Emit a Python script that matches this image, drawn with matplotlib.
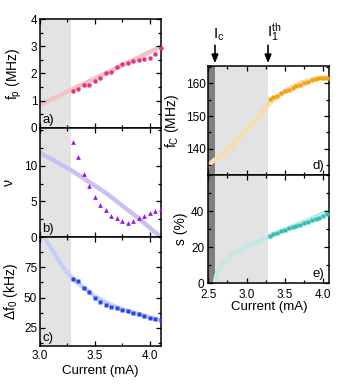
import matplotlib
matplotlib.use("Agg")
import matplotlib.pyplot as plt
from matplotlib.ticker import MultipleLocator
import numpy as np

plt.rcParams['font.family'] = ['Liberation Sans', 'DejaVu Sans']
plt.rcParams['mathtext.fontset'] = 'custom'
plt.rcParams['mathtext.rm'] = 'Liberation Sans'
plt.rcParams['mathtext.it'] = 'Liberation Sans:italic'
plt.rcParams['font.size'] = 9

# ---------------- data ----------------
current = [3.30, 3.35, 3.40, 3.45, 3.50, 3.55, 3.60, 3.65, 3.70, 3.75,
           3.80, 3.85, 3.90, 3.95, 4.00, 4.05, 4.10]

fp = [1.37, 1.42, 1.57, 1.58, 1.72, 1.84, 2.03, 2.07, 2.24, 2.36,
      2.39, 2.45, 2.49, 2.53, 2.58, 2.72, 2.93]
nu = [13.4, 11.2, 8.8, 7.2, 5.6, 4.5, 3.8, 2.9, 2.6, 2.3,
      2.0, 2.2, 2.7, 3.0, 3.4, 3.6, 3.9]
df0 = [65.0, 63.3, 58.3, 54.4, 49.4, 46.0, 44.0, 42.2, 41.0, 39.6,
       38.5, 37.4, 36.2, 34.6, 33.2, 32.5, 31.4]
fc = [155.3, 155.8, 156.2, 156.9, 157.6, 158.1, 158.7, 159.2, 159.6, 160.2,
      160.5, 161.0, 161.3, 161.5, 161.7, 161.7, 161.6]
s = [26.4, 27.3, 28.1, 28.9, 29.7, 30.5, 31.2, 31.8, 32.5, 33.4,
     34.2, 34.9, 35.6, 36.4, 37.2, 38.2, 40.8]

# model curves
fit_a_x = [3.0, 4.1]
fit_a_y = [0.85, 2.98]
fit_b_x = [3.0, 3.1, 3.2, 3.3, 3.4, 3.5, 3.6, 3.7, 3.8, 3.9, 4.0, 4.1]
fit_b_y = [11.8, 11.0, 10.1, 9.2, 8.2, 7.2, 6.2, 5.0, 3.8, 2.6, 1.3, 0.0]
fit_c_x = [3.02, 3.06, 3.10, 3.15, 3.20, 3.25, 3.30, 3.35, 3.40, 3.50,
           3.60, 3.70, 3.80, 3.90, 4.00, 4.10]
fit_c_y = [103, 97, 91, 83.5, 76.5, 70.5, 65.5, 61.5, 58, 51,
           46, 42, 39, 36.2, 33.7, 31.5]
fit_d_x = [2.50, 2.58, 2.65, 2.75, 2.85, 3.00, 3.10, 3.20, 3.30, 3.40,
           3.50, 3.60, 3.70, 3.80, 3.90, 4.00, 4.08]
fit_d_y = [135.0, 136.6, 137.6, 139.5, 141.9, 145.8, 148.4, 151.2, 154.0, 155.9,
           157.6, 159.0, 160.1, 160.9, 161.5, 161.8, 161.7]
fit_e_x = [2.585, 2.60, 2.63, 2.68, 2.74, 2.82, 2.91, 3.00, 3.09, 3.18,
           3.28, 3.40, 3.60, 3.80, 4.00, 4.08]
fit_e_y = [0.0, 3.5, 7.3, 10.3, 12.8, 15.8, 18.3, 20.3, 22.0, 23.8,
           25.7, 27.9, 31.5, 35.0, 38.7, 40.3]

ticks_a = [0, 1, 2, 3, 4]
ticks_b = [0, 5, 10]
ticks_c = [25, 50, 75]
ticks_d = [140, 150, 160]
ticks_e = [0, 20, 40]
xticks_left = [3.0, 3.5, 4.0]
xticks_right = [2.5, 3.0, 3.5, 4.0]

Ic = 2.587
I1th = 3.28

# ---------------- figure ----------------
fig = plt.figure(figsize=(3.39, 3.89), dpi=100)

L0, W0 = 40/339, 120.7/339
R0, W1 = 208.3/339, 121/339

def fy(top, bot):
    return 1 - bot/389, (bot - top)/389

def make(left, width, top, bot):
    b, h = fy(top, bot)
    return fig.add_axes([left, b, width, h])

ax_a = make(L0, W0, 19, 128)
ax_b = make(L0, W0, 128, 237)
ax_c = make(L0, W0, 237, 346)
ax_d = make(R0, W1, 66, 175)
ax_e = make(R0, W1, 175, 283.3)

light_gray = '#e3e3e3'
dark_gray = '#7f7f7f'
fit_lw = 3.2
lab_fs = 10
xlab_fs = 9.5
tick_fs = 8.5
pan_fs = 9.5

def style(ax, yt, ymin_, xt, xlabels):
    ax.tick_params(which='both', direction='in', top=True, right=True,
                   width=0.9, labelsize=tick_fs, pad=2)
    ax.tick_params(axis='x', which='both', pad=3)
    ax.tick_params(which='major', length=3.5)
    ax.tick_params(which='minor', length=2)
    ax.set_xticks(xt)
    ax.xaxis.set_minor_locator(MultipleLocator(0.25))
    ax.set_yticks(yt)
    ax.yaxis.set_minor_locator(MultipleLocator(ymin_))
    for sp in ax.spines.values():
        sp.set_linewidth(1.1)
    if not xlabels:
        ax.tick_params(labelbottom=False)

# panel a
ax = ax_a
ax.axvspan(3.0, I1th, color=light_gray, lw=0, zorder=0)
ax.plot(fit_a_x, fit_a_y, color='#f4c2c2', lw=fit_lw, solid_capstyle='butt', zorder=1)
ax.plot(current, fp, 'o', color='#e8327c', ms=3.2, mec='none', zorder=3, clip_on=False)
ax.set_xlim(3.0, 4.1)
ax.set_ylim(0, 4)
style(ax, ticks_a, 0.5, xticks_left, False)
ax.set_ylabel(r'f$_\mathrm{p}$ (MHz)', labelpad=5, fontsize=lab_fs)
ax.text(0.02, 0.02, 'a)', transform=ax.transAxes, ha='left', va='bottom', fontsize=pan_fs)

# panel b
ax = ax_b
ax.axvspan(3.0, I1th, color=light_gray, lw=0, zorder=0)
ax.plot(fit_b_x, fit_b_y, color='#cdbff5', lw=fit_lw, zorder=1)
ax.plot(current, nu, '^', color='#9a12ee', ms=3.4, mec='none', zorder=3)
ax.set_xlim(3.0, 4.1)
ax.set_ylim(0, 15.3)
style(ax, ticks_b, 2.5, xticks_left, False)
ax.set_ylabel('ν', labelpad=6, fontsize=lab_fs)
ax.text(0.02, 0.02, 'b)', transform=ax.transAxes, ha='left', va='bottom', fontsize=pan_fs)

# panel c
ax = ax_c
ax.axvspan(3.0, I1th, color=light_gray, lw=0, zorder=0)
ax.plot(fit_c_x, fit_c_y, color='#c8cff5', lw=fit_lw, zorder=1)
ax.plot(current, df0, 's', color='#2444ee', ms=2.8, mec='none', zorder=3)
ax.set_xlim(3.0, 4.1)
ax.set_ylim(10, 100)
style(ax, ticks_c, 12.5, xticks_left, True)
ax.set_ylabel(r'$\Delta$f$_0$ (kHz)', labelpad=3, fontsize=lab_fs)
ax.set_xlabel('Current (mA)', labelpad=2, fontsize=xlab_fs)
ax.text(0.02, 0.02, 'c)', transform=ax.transAxes, ha='left', va='bottom', fontsize=pan_fs)

# panel d
ax = ax_d
ax.axvspan(2.5, Ic, color=dark_gray, lw=0, zorder=0)
ax.axvspan(Ic, I1th, color=light_gray, lw=0, zorder=0)
ax.plot(fit_d_x, fit_d_y, color='#f6dcae', lw=fit_lw, zorder=1)
ax.plot(current, fc, 's', color='#f5a20a', ms=2.8, mec='none', zorder=3)
ax.set_xlim(2.5, 4.08)
ax.set_ylim(132, 165.3)
style(ax, ticks_d, 5, xticks_right, False)
ax.set_ylabel(r'f$_\mathrm{C}$ (MHz)', labelpad=3, fontsize=lab_fs)
ax.text(0.96, 0.03, 'd)', transform=ax.transAxes, ha='right', va='bottom', fontsize=pan_fs)

for xv, lab in [(Ic, r'$\mathrm{I_c}$'), (I1th, r'$\mathrm{I_1^{th}}$')]:
    ax.annotate('', xy=(xv, 1.025), xycoords=('data', 'axes fraction'),
                xytext=(xv, 1.19), textcoords=('data', 'axes fraction'),
                arrowprops=dict(arrowstyle='-|>,head_length=0.55,head_width=0.22',
                                color='black', lw=1.2, shrinkA=0, shrinkB=0),
                annotation_clip=False)
    ax.text(xv - 0.02, 1.215, lab, transform=ax.get_xaxis_transform(),
            ha='left', va='bottom', fontsize=11)

# panel e
ax = ax_e
ax.axvspan(2.5, Ic, color=dark_gray, lw=0, zorder=0)
ax.axvspan(Ic, I1th, color=light_gray, lw=0, zorder=0)
ax.plot(fit_e_x, fit_e_y, color='#c2e8e6', lw=fit_lw, zorder=1)
ax.plot(current, s, 's', color='#2cc2b2', ms=2.8, mec='none', zorder=3)
ax.set_xlim(2.5, 4.08)
ax.set_ylim(0, 60)
style(ax, ticks_e, 10, xticks_right, True)
ax.tick_params(axis='x', which='both', pad=4)
ax.tick_params(axis='y', which='both', pad=3)
ax.set_ylabel('s (%)', labelpad=2, fontsize=lab_fs)
ax.set_xlabel('Current (mA)', labelpad=0, fontsize=xlab_fs)
ax.text(0.96, 0.03, 'e)', transform=ax.transAxes, ha='right', va='bottom', fontsize=pan_fs)

fig.savefig('out.png', dpi=100)
